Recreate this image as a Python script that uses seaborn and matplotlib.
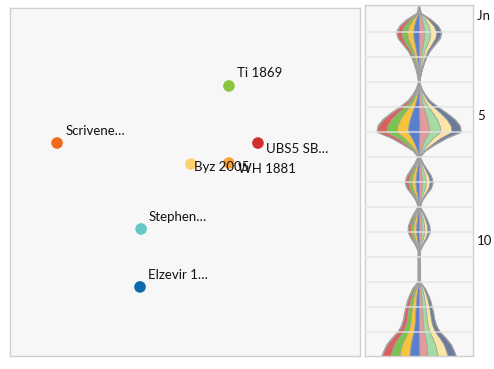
import numpy as np
import matplotlib
matplotlib.use("Agg")
import matplotlib.pyplot as plt
import seaborn as sns
import pandas as pd

# editions (MDS coordinates)
editions = ["Ti 1869", "Scrivene…", "UBS5 SB…", "Byz 2005", "WH 1881", "Stephen…", "Elzevir 1…"]
mds_x = [0.251, -0.731, 0.417, 0.034, 0.251, -0.251, -0.257]
mds_y = [0.552, 0.224, 0.224, 0.103, 0.109, -0.270, -0.603]
ed_colors = ["#8cc63e", "#f26b1d", "#d1302f", "#fdd26e", "#f7a23a", "#64c8c8", "#0c6aae"]
label_off = [(8, 13), (8, 12), (8, -6), (3, -3), (9, -6), (7, 12), (8, 12)]

# variation stream along Jn 1:1-14 (position in verses, half width)
stream_pos = np.array([0, 0.25, 0.5, 0.75, 1.0, 1.25, 1.5, 1.75, 2.0, 2.25, 2.5, 2.75,
                       3.0, 3.25, 3.5, 3.75, 4.0, 4.25, 4.5, 4.75, 5.0, 5.25, 5.5, 5.75,
                       6.0, 6.25, 6.5, 6.75, 7.0, 7.25, 7.5, 7.75, 8.0, 8.25, 8.5, 8.75,
                       9.0, 9.25, 9.5, 9.75, 10.0, 10.25, 10.5, 10.75, 11.0, 11.25, 11.5,
                       11.75, 12.0, 12.25, 12.5, 12.75, 13.0, 13.25, 13.5, 13.75, 13.96])
stream_half = np.array([0.5, 2, 12, 19, 22.5, 21, 16, 11, 7.5, 5, 3, 1.5,
                        0.5, 2.5, 6, 11, 19, 28, 36, 41, 42, 27, 16, 6,
                        1, 4, 8, 12, 14, 12, 7, 3, 1, 5, 8, 10.5,
                        11, 8, 4, 1, 1, 1, 1, 1, 1, 6, 9,
                        11.5, 13, 14.5, 15.5, 17.5, 21, 27, 32, 35, 37])
layer_share = [1.0, 1.1, 1.2, 1.2, 1.0, 1.2, 1.2, 1.0]
layer_colors = ["#d9625e", "#7cc24e", "#f5c43c", "#5b7fcf", "#e39a9a", "#a3dca3", "#fbe6a6", "#6c7a9c"]
verse_ticks = [1, 5, 10]
verse_labels = ["Jn 1", "5", "10"]

sns.set_style("white")
plt.rcParams["font.family"] = ["Lato", "DejaVu Sans"]

fig = plt.figure(figsize=(4.94, 3.69), dpi=100)
W, H = 494, 369
ax = fig.add_axes([10 / W, (H - 356) / H, 350 / W, 348 / H])
ax2 = fig.add_axes([365 / W, (H - 356) / H, 108 / W, 351 / H])

# left: scatter
df = pd.DataFrame({"x": mds_x, "y": mds_y, "ed": editions})
sns.scatterplot(data=df, x="x", y="y", hue="ed", palette=ed_colors, s=70,
                linewidth=0, legend=False, ax=ax)
for i, name in enumerate(editions):
    ax.annotate(name, (mds_x[i], mds_y[i]), xytext=label_off[i], textcoords="offset pixels",
                fontsize=9.5, va="center", ha="left", color="#111111")
ax.set_xlim(-1, 1)
ax.set_ylim(-1, 1)
ax.set_facecolor("#f7f7f7")
ax.set_xticks([])
ax.set_yticks([])
ax.set_xlabel("")
ax.set_ylabel("")
for s in ax.spines.values():
    s.set_color("#d0d0d0")
    s.set_linewidth(1)

# right: stacked stream
ax2.set_facecolor("#f7f7f7")
ax2.plot([0, 0], [0, 13.96], color="#a8a8a8", lw=1.6, zorder=1)
shares = np.array(layer_share) / sum(layer_share)
left = -stream_half.copy()
for share, col in zip(shares, layer_colors):
    right = left + 2 * stream_half * share
    ax2.fill_betweenx(stream_pos, left, right, color=col, ec="#a0a0a0", lw=0.5, zorder=2)
    left = right
ax2.plot(-stream_half, stream_pos, color="#a0a0a0", lw=0.8, zorder=3)
ax2.plot(stream_half, stream_pos, color="#a0a0a0", lw=0.8, zorder=3)
for g in range(1, 14):
    ax2.axhline(g, color="#e4e4e4", lw=1.3, alpha=0.75, zorder=4)
ax2.set_xlim(-54, 54)
ax2.set_ylim(13.96, -0.08)
ax2.set_xticks([])
ax2.yaxis.tick_right()
ax2.set_yticks([v - 1 + 0.32 for v in verse_ticks])
ax2.set_yticklabels(verse_labels, fontsize=9.5, color="#111111")
ax2.tick_params(axis="y", length=0, pad=3)
for s in ax2.spines.values():
    s.set_color("#d0d0d0")
    s.set_linewidth(1)

fig.savefig("out.png", dpi=100, facecolor="white")
